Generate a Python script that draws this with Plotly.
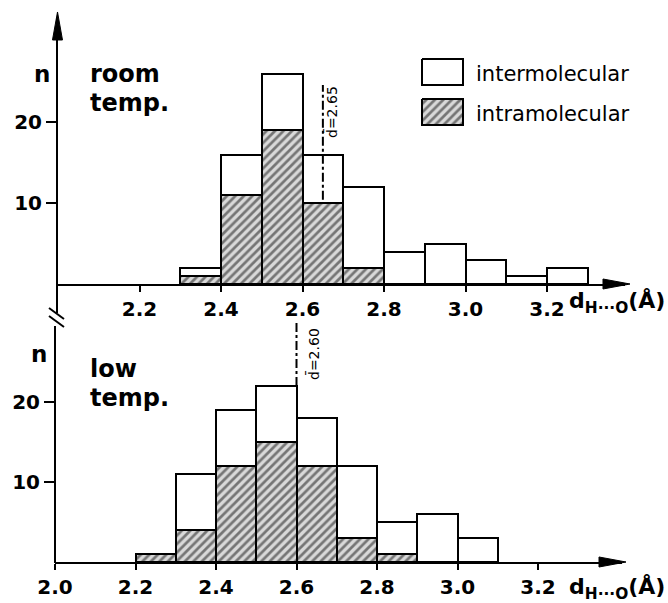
import plotly.graph_objects as go

# ---------------- data ----------------
bins_room = [2.35, 2.45, 2.55, 2.65, 2.75, 2.85, 2.95, 3.05, 3.15, 3.25]
intra_room = [1, 11, 19, 10, 2, 0, 0, 0, 0, 0]
inter_room = [1, 5, 7, 6, 10, 4, 5, 3, 1, 2]
mean_room = 2.65

bins_low = [2.25, 2.35, 2.45, 2.55, 2.65, 2.75, 2.85, 2.95, 3.05]
intra_low = [1, 4, 12, 15, 12, 3, 1, 0, 0]
inter_low = [0, 7, 7, 7, 6, 9, 4, 6, 3]
mean_low = 2.60

xticks_room = [2.2, 2.4, 2.6, 2.8, 3.0, 3.2]
xticks_low = [2.0, 2.2, 2.4, 2.6, 2.8, 3.0, 3.2]
yticks = [10, 20]

W, H = 668, 603
def px(x):
    return x / W
def py(y):
    return 1 - y / H

FONT = "DejaVu Sans"
hatch = dict(shape="/", fgcolor="#111111", bgcolor="#d9d9d9", size=6, solidity=0.45)

fig = go.Figure()

# bars room temperature
fig.add_trace(go.Bar(x=bins_room, y=intra_room, width=0.1, xaxis="x", yaxis="y",
                     marker=dict(color="#d9d9d9", pattern=hatch, line=dict(color="black", width=2)),
                     name="intramolecular", showlegend=False))
fig.add_trace(go.Bar(x=bins_room, y=inter_room, width=0.1, xaxis="x", yaxis="y",
                     marker=dict(color="white", line=dict(color="black", width=2)),
                     name="intermolecular", showlegend=False))
# bars low temperature
fig.add_trace(go.Bar(x=bins_low, y=intra_low, width=0.1, xaxis="x2", yaxis="y2",
                     marker=dict(color="#d9d9d9", pattern=hatch, line=dict(color="black", width=2)),
                     name="intramolecular", showlegend=False))
fig.add_trace(go.Bar(x=bins_low, y=inter_low, width=0.1, xaxis="x2", yaxis="y2",
                     marker=dict(color="white", line=dict(color="black", width=2)),
                     name="intermolecular", showlegend=False))

# mean lines
fig.add_trace(go.Scatter(x=[mean_room, mean_room], y=[10.4, 24.6], mode="lines", xaxis="x", yaxis="y",
                         line=dict(color="black", width=2, dash="dashdot"), showlegend=False, hoverinfo="skip"))
fig.add_trace(go.Scatter(x=[mean_low, mean_low], y=[22, 30.2], mode="lines", xaxis="x2", yaxis="y2",
                         line=dict(color="black", width=2, dash="dashdot"), showlegend=False, hoverinfo="skip"))

# legend swatches on an overlay pixel axis
fig.add_trace(go.Scatter(x=[422, 463, 463, 422, 422], y=[59, 59, 85, 85, 59], xaxis="x3", yaxis="y3",
                         mode="lines", fill="toself", fillcolor="white",
                         line=dict(color="black", width=2), showlegend=False, hoverinfo="skip"))
fig.add_trace(go.Scatter(x=[422, 463, 463, 422, 422], y=[99, 99, 125, 125, 99], xaxis="x3", yaxis="y3",
                         mode="lines", fill="toself", fillcolor="#d9d9d9", fillpattern=hatch,
                         line=dict(color="black", width=2), showlegend=False, hoverinfo="skip"))

tickfont = dict(family=FONT, size=20, color="black", weight="bold")
common_x = dict(showline=True, linewidth=2, linecolor="black", ticks="outside", ticklen=6,
                tickwidth=2, tickcolor="black", showgrid=False, zeroline=False,
                tickfont=tickfont, fixedrange=True, automargin=False)
common_y = dict(ticks="outside", ticklen=10, tickwidth=2, tickcolor="black", showgrid=False,
                zeroline=False, tickfont=dict(family=FONT, size=20, color="black", weight="bold"),
                fixedrange=True, automargin=False)

fig.update_layout(
    width=W, height=H,
    margin=dict(l=0, r=0, t=0, b=0, autoexpand=False),
    paper_bgcolor="white", plot_bgcolor="rgba(0,0,0,0)",
    barmode="stack", bargap=0,
    showlegend=False,
    xaxis=dict(domain=[px(58), px(625)], range=[2.0, 2.0 + 567 / 407.5], anchor="y",
               tickvals=xticks_room, ticktext=[f"{v:.1f}" for v in xticks_room], **common_x),
    yaxis=dict(domain=[py(284), py(17)], range=[0, 33], anchor="x",
               showline=True, linewidth=2, linecolor="black",
               tickvals=yticks, ticktext=[str(v) for v in yticks], **common_y),
    xaxis2=dict(domain=[px(55), px(622)], range=[2.0, 2.0 + 567 / 402.5], anchor="y2",
                tickvals=xticks_low, ticktext=[f"{v:.1f}" for v in xticks_low], **common_x),
    yaxis2=dict(domain=[py(562), py(318)], range=[0, 30.5], anchor="x2", showline=False,
                tickvals=yticks, ticktext=[str(v) for v in yticks], **common_y),
    xaxis3=dict(domain=[0, 1], range=[0, W], visible=False, anchor="y3", fixedrange=True, automargin=False),
    yaxis3=dict(domain=[0, 1], range=[H, 0], visible=False, anchor="x3", fixedrange=True, automargin=False),
)

# axis decorations: continuation of the y-axis with a break mark
line = dict(color="black", width=2)
fig.add_shape(type="line", xref="paper", yref="paper", x0=px(57), x1=px(57), y0=py(283), y1=py(313), line=line)
fig.add_shape(type="line", xref="paper", yref="paper", x0=px(49), x1=px(64), y0=py(308), y1=py(319), line=line)
fig.add_shape(type="line", xref="paper", yref="paper", x0=px(49), x1=px(64), y0=py(316), y1=py(327), line=line)
fig.add_shape(type="line", xref="paper", yref="paper", x0=px(55), x1=px(55), y0=py(326), y1=py(563), line=line)

# arrow heads (filled triangles)
def tri(pts):
    d = "M " + " L ".join(f"{px(x):.5f},{py(y):.5f}" for x, y in pts) + " Z"
    fig.add_shape(type="path", xref="paper", yref="paper", path=d,
                  fillcolor="black", line=dict(color="black", width=1))

tri([(57.5, 12), (52.5, 40), (62.5, 40)])
tri([(630, 284), (603, 279), (603, 289)])
tri([(626, 562), (599, 557), (599, 567)])

ann = []
def text(t, x, y, size, xanchor="left", weight="bold", angle=0):
    ann.append(dict(x=px(x), y=py(y), xref="paper", yref="paper", text=t, showarrow=False,
                    xanchor=xanchor, yanchor="middle", textangle=angle,
                    font=dict(family=FONT, size=size, color="black", weight=weight)))

text("n", 42, 74, 23, xanchor="center")
text("room", 88, 74, 24)
text("temp.", 88, 103, 24)
text("n", 39, 354, 23, xanchor="center")
text("low", 88, 369, 24)
text("temp.", 88, 398, 24)

text("intermolecular", 474, 74, 21, weight="normal")
text("intramolecular", 474, 114, 21, weight="normal")

text("d̄=2.65", 331, 112, 14, xanchor="center", weight="normal", angle=-90)
text("d̄=2.60", 313, 354, 14, xanchor="center", weight="normal", angle=-90)

text("d<sub>H···O</sub>(Å)", 567, 302, 22)
text("d<sub>H···O</sub>(Å)", 567, 588, 22)

fig.update_layout(annotations=ann)

fig.write_html("out.html")
